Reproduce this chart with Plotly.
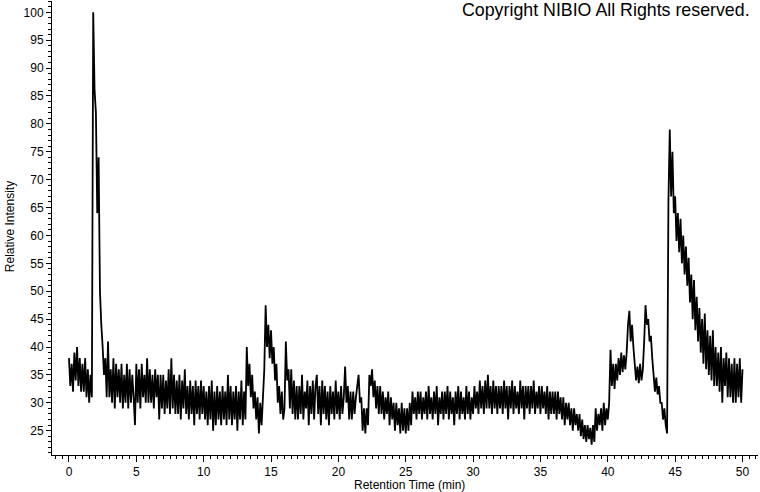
import plotly.graph_objects as go

# Chromatogram: relative intensity (%) sampled every 0.1 min from 0.0 to 50.0 min
sample_interval_min = 0.1

intensity_00_10 = [
    38, 33, 37, 32, 39, 34, 40, 33, 38, 32,
    37, 32, 38, 31, 36, 30, 35, 31, 100, 86,
    82, 64, 74, 50, 44, 40, 35, 38, 31, 41,
    31, 36, 30, 38, 29, 37, 31, 36, 30, 37,
    29, 35, 30, 37, 29, 36, 30, 35, 31, 26,
    37, 30, 36, 29, 37, 31, 35, 30, 38, 30,
    36, 30, 35, 29, 36, 31, 35, 27, 35, 29,
    35, 28, 34, 29, 36, 28, 38, 29, 35, 28,
    34, 28, 35, 27, 34, 29, 36, 28, 33, 27,
    34, 28, 33, 26, 34, 28, 33, 27, 34, 28,
]
intensity_10_20 = [
    33, 27, 32, 26, 33, 27, 34, 25, 32, 26,
    33, 27, 32, 26, 33, 27, 32, 26, 35, 27,
    33, 26, 32, 27, 33, 25, 32, 27, 34, 26,
    32, 27, 40, 33, 37, 31, 35, 29, 32, 27,
    31, 24.5, 30, 26, 31, 36, 47.5, 40, 44, 38,
    43, 37, 40, 34, 37, 30, 33, 28, 32, 27,
    29, 41, 34, 36, 29, 36, 28, 34, 27, 33,
    27, 33, 28, 35, 27, 32, 29, 34, 26, 33,
    28, 34, 27, 33, 35, 28, 33, 26, 34, 28,
    33, 27, 32, 26, 33, 28, 32, 27, 34, 28,
]
intensity_20_30 = [
    32, 27, 33, 28, 31, 36.5, 30, 33, 27, 32,
    27, 32, 28, 31, 33, 35, 30, 31, 25, 29,
    24.5, 29, 26, 35, 33, 36, 31, 34, 29, 33,
    28, 33, 28, 32, 27, 31, 28, 32, 26, 31,
    27, 30, 25, 30, 26, 29, 24.5, 30, 25, 29,
    24.5, 29, 25, 30, 26, 32, 28, 31, 27, 32,
    28, 32, 27, 31, 28, 32, 27, 33, 28, 31,
    27, 32, 28, 33, 26, 31, 28, 32, 27, 32,
    28, 33, 27, 32, 28, 31, 26, 32, 28, 33,
    27, 32, 28, 31, 27, 33, 28, 32, 27, 31,
]
intensity_30_40 = [
    28, 33, 29, 32, 28, 34, 29, 33, 28, 34,
    29, 35, 29, 33, 28, 34, 29, 33, 28, 33,
    29, 33, 28, 34, 29, 33, 27, 33, 29, 34,
    28, 33, 29, 32, 28, 34, 29, 33, 27, 33,
    29, 33, 28, 33, 29, 34, 28, 32, 29, 33,
    28, 33, 29, 32, 28, 33, 27, 32, 28, 32,
    28, 32, 27, 32, 28, 31, 27, 31, 26, 30,
    27, 30, 26, 29, 25, 29, 26, 28, 25, 28,
    24, 27, 23.5, 26, 23, 26, 23.5, 25.5, 22.5, 26,
    23, 29, 25, 28, 26, 29, 25, 30, 26, 29,
]
intensity_40_50 = [
    27, 30, 39.5, 33, 37, 32.5, 37, 34, 38, 35,
    39, 35.5, 38.5, 36, 39, 44, 46.5, 41, 44, 40,
    37, 34, 36.5, 33.5, 37, 34, 36, 41, 47.5, 44,
    45, 41, 42, 38, 35, 32, 34.5, 31.5, 33, 30,
    30, 27, 29, 26, 24.5, 66, 79, 67, 75, 64,
    67, 59, 64, 57, 63, 55, 60, 53, 58, 51,
    56, 48, 53, 45, 52, 43, 49, 41, 47, 39,
    45, 37, 46, 36, 43, 35, 42, 34, 43, 33,
    40, 33, 39, 32, 40, 30, 38, 33, 39, 31,
    38, 31, 37, 30, 38, 30, 37, 31, 38, 30,
    36,
]

intensity = intensity_00_10 + intensity_10_20 + intensity_20_30 + intensity_30_40 + intensity_40_50
retention_time = [round(i * sample_interval_min, 1) for i in range(len(intensity))]

x_tick_values = [0, 5, 10, 15, 20, 25, 30, 35, 40, 45, 50]
y_tick_values = [25, 30, 35, 40, 45, 50, 55, 60, 65, 70, 75, 80, 85, 90, 95, 100]

FONT = "Liberation Sans, Arial, sans-serif"

fig = go.Figure()
fig.add_trace(go.Scatter(
    x=retention_time, y=intensity, mode="lines",
    line=dict(color="black", width=1.8, simplify=False),
    hoverinfo="skip", showlegend=False,
))

fig.update_layout(
    width=760, height=492,
    margin=dict(l=52, r=2, t=1, b=37),
    paper_bgcolor="white", plot_bgcolor="white",
    font=dict(family=FONT, size=12, color="black"),
    xaxis=dict(
        range=[-1.26, 51.15], showgrid=False, zeroline=False,
        showline=True, linecolor="black", linewidth=1,
        ticks="outside", ticklen=6, tickcolor="black", tickwidth=1,
        tickvals=x_tick_values, ticktext=[str(v) for v in x_tick_values],
        tickfont=dict(family=FONT, size=12, color="black"),
        minor=dict(dtick=0.5, tick0=0, ticks="outside", ticklen=3,
                   tickcolor="black", showgrid=False),
    ),
    yaxis=dict(
        range=[20.64, 102.03], showgrid=False, zeroline=False,
        showline=True, linecolor="black", linewidth=1,
        ticks="outside", ticklen=5, tickcolor="black", tickwidth=1,
        tickvals=y_tick_values, ticktext=[str(v) for v in y_tick_values],
        tickfont=dict(family=FONT, size=12, color="black"),
        minor=dict(dtick=1, tick0=0, ticks="outside", ticklen=3,
                   tickcolor="black", showgrid=False),
    ),
    annotations=[
        dict(text="Retention Time (min)", xref="paper", yref="paper",
             x=0.507, y=-0.066, xanchor="center", yanchor="middle",
             showarrow=False, font=dict(family=FONT, size=12, color="black")),
        dict(text="Relative Intensity", xref="paper", yref="paper",
             x=-0.0595, y=0.504, xanchor="center", yanchor="middle",
             textangle=-90, showarrow=False,
             font=dict(family=FONT, size=12, color="black")),
        dict(text="Copyright NIBIO All Rights reserved.", xref="paper", yref="paper",
             x=0.9915, y=0.981, xanchor="right", yanchor="middle",
             showarrow=False, font=dict(family=FONT, size=17.8, color="black")),
    ],
)

fig.write_html("out.html", config={"displayModeBar": False},
               post_script="document.body.style.margin='0px';")
